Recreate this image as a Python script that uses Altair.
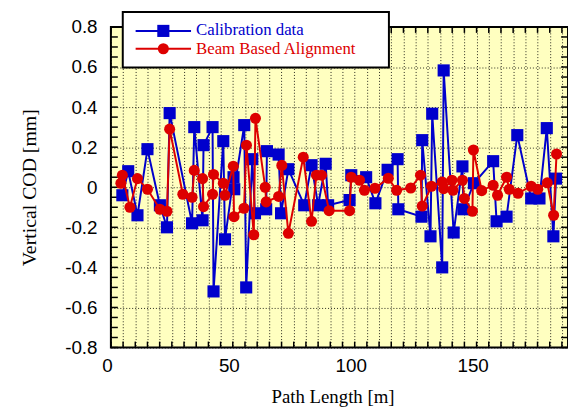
import altair as alt
import pandas as pd

# Calibration data (blue squares)
blue_x = [4.7, 7.1, 10.9, 15.0, 20.1, 23.0, 24.1, 33.3, 34.2, 37.6, 38.0, 41.7, 42.1,
          46.1, 46.8, 50.3, 50.6, 54.7, 55.5, 58.0, 59.1, 63.7, 64.0, 68.8, 69.8, 72.8,
          79.3, 82.3, 85.0, 88.1, 89.1, 97.9, 98.6, 104.7, 108.5, 113.5, 117.6, 117.9,
          127.4, 127.7, 131.1, 131.8, 135.9, 136.5, 140.6, 144.2, 144.6, 148.9, 156.8,
          158.2, 162.3, 166.7, 172.4, 175.8, 178.8, 181.5, 182.6]
blue_y = [-0.04, 0.08, -0.14, 0.19, -0.09, -0.20, 0.37, -0.18, 0.30, -0.165, 0.21, 0.30, -0.52,
          0.23, -0.26, 0.05, -0.01, 0.31, -0.50, 0.14, -0.13, -0.11, 0.18, 0.163, -0.13, 0.09,
          -0.09, 0.11, -0.09, 0.117, -0.09, -0.064, 0.06, 0.05, -0.08, 0.087, 0.14, -0.11,
          -0.147, 0.235, -0.245, 0.367, -0.40, 0.583, -0.226, 0.104, -0.11, 0.02, 0.13,
          -0.17, -0.147, 0.26, -0.056, -0.056, 0.295, -0.245, 0.043]

# Beam Based Alignment (red circles)
red_x = [4.1, 4.7, 7.8, 10.9, 15.0, 20.1, 23.0, 24.1, 29.5, 33.3, 34.2, 37.6, 38.0, 41.7,
         42.1, 46.1, 46.8, 50.2, 50.5, 54.6, 55.6, 58.6, 59.3, 63.3, 63.7, 68.8, 70.1, 72.8,
         78.9, 82.3, 84.3, 86.4, 89.5, 97.9, 98.6, 102.0, 104.0, 108.3, 113.8, 117.2, 123.0,
         127.0, 127.7, 131.5, 135.9, 136.5, 139.9, 140.3, 144.2, 145.0, 148.3, 148.7, 152.1,
         156.8, 158.6, 162.3, 163.4, 167.0, 172.4, 175.1, 179.0, 181.6, 182.8]
red_y = [0.02, 0.06, -0.10, 0.043, -0.01, -0.11, -0.12, 0.29, -0.035, -0.05, 0.084, 0.043, -0.097,
         -0.035, 0.064, 0.02, -0.04, 0.105, -0.147, -0.105, 0.21, -0.237, 0.344, 0.0, -0.073,
         -0.046, 0.109, -0.23, 0.15, -0.17, 0.06, 0.06, -0.117, -0.117, 0.05, 0.035, -0.015,
         -0.005, 0.045, -0.015, -0.004, 0.06, -0.094, 0.005, 0.026, -0.007, 0.035, -0.015,
         0.035, -0.056, -0.12, 0.186, -0.017, 0.01, -0.04, 0.05, -0.01, -0.03, 0.005, -0.01,
         0.022, -0.14, 0.166]

# Axis ticks / labels
x_tick_values = [5 * i for i in range(38)]
y_minor_values = [round(-0.8 + 0.05 * i, 2) for i in range(33)]
y_label_values = [-0.8, -0.6, -0.4, -0.2, 0, 0.2, 0.4, 0.6, 0.8]

legend_labels = ["Calibration data", "Beam Based Alignment"]

BLUE = "#0000CC"
RED = "#DD0000"
W, H = 462, 324

blue_df = pd.DataFrame({"x": blue_x, "y": blue_y, "i": range(len(blue_x))})
red_df = pd.DataFrame({"x": red_x, "y": red_y, "i": range(len(red_x))})
xt_df = pd.DataFrame({"x": x_tick_values})
yt_df = pd.DataFrame({"y": y_minor_values})
one = pd.DataFrame({"a": [0]})

xscale = alt.Scale(domain=[0, 187.5], nice=False, zero=False)
yscale = alt.Scale(domain=[-0.8, 0.8], nice=False, zero=False)

x_axis = alt.Axis(
    values=x_tick_values, grid=True, gridDash=[1, 2], gridColor="black", gridOpacity=0.85,
    gridWidth=1, ticks=False, domain=False, labelOverlap=False, labelFlush=False,
    labelExpr="datum.value % 50 == 0 ? datum.label : ''", labelFont="Liberation Sans",
    labelFontSize=19, labelColor="black", labelPadding=9, labelOffset=-4,
    title="Path Length [m]", titleFont="Liberation Serif", titleFontSize=19,
    titleFontWeight="normal", titleColor="black", titleX=224, titleY=50,
    titleBaseline="middle", titleAlign="center",
)
y_axis = alt.Axis(
    values=y_label_values, grid=True, gridDash=[1, 2], gridColor="black", gridOpacity=0.85,
    gridWidth=1, ticks=False, domain=False, labelOverlap=False, labelFlush=False,
    labelExpr="abs(datum.value) < 1e-9 ? '0' : (datum.value < 0 ? '-' : '') + format(abs(datum.value), '.1f')",
    labelFont="Liberation Sans", labelFontSize=19, labelColor="black", labelPadding=14,
    title="Vertical COD [mm]", titleFont="Liberation Serif", titleFontSize=20,
    titleFontWeight="normal", titleColor="black", titleX=-82, titleY=162,
    titleAngle=-90, titleAlign="center", titleBaseline="middle",
)

X = alt.X("x:Q", scale=xscale, axis=x_axis)
Y = alt.Y("y:Q", scale=yscale, axis=y_axis)

blue_line = alt.Chart(blue_df).mark_line(color=BLUE, strokeWidth=2).encode(x=X, y=Y, order="i:Q")
blue_pts = alt.Chart(blue_df).mark_point(shape="square", filled=True, size=150, color=BLUE, opacity=1).encode(x=X, y=Y)
red_line = alt.Chart(red_df).mark_line(color=RED, strokeWidth=2).encode(x=X, y=Y, order="i:Q")
red_pts = alt.Chart(red_df).mark_point(shape="circle", filled=True, size=125, color=RED, opacity=1).encode(x=X, y=Y)

tick_bot = alt.Chart(xt_df).mark_rule(color="black", strokeWidth=1.5).encode(
    x=X, y=alt.value(H), y2=alt.value(H - 6)
)
tick_top = alt.Chart(xt_df).mark_rule(color="black", strokeWidth=1.5).encode(
    x=X, y=alt.value(0), y2=alt.value(6)
)
tick_left = alt.Chart(yt_df).mark_rule(color="black", strokeWidth=1.5).encode(
    y=Y, x=alt.value(0), x2=alt.value(7)
)
tick_right = alt.Chart(yt_df).mark_rule(color="black", strokeWidth=1.5).encode(
    y=Y, x=alt.value(W), x2=alt.value(W - 7)
)

# Legend box
leg_box = alt.Chart(one).mark_rect(fill="white", stroke="black", strokeWidth=2).encode(
    x=alt.value(12), x2=alt.value(281), y=alt.value(-15), y2=alt.value(41)
)
leg_b_line = alt.Chart(one).mark_rule(color=BLUE, strokeWidth=2).encode(
    x=alt.value(25), x2=alt.value(81), y=alt.value(4)
)
leg_b_pt = alt.Chart(one).mark_point(shape="square", filled=True, size=150, color=BLUE, opacity=1).encode(
    x=alt.value(53), y=alt.value(4)
)
leg_r_line = alt.Chart(one).mark_rule(color=RED, strokeWidth=2).encode(
    x=alt.value(25), x2=alt.value(81), y=alt.value(22)
)
leg_r_pt = alt.Chart(one).mark_point(shape="circle", filled=True, size=125, color=RED, opacity=1).encode(
    x=alt.value(53), y=alt.value(22)
)
leg_b_txt = alt.Chart(one).mark_text(text=legend_labels[0], color=BLUE, font="Liberation Serif",
                                     fontSize=17, align="left", baseline="middle").encode(
    x=alt.value(86), y=alt.value(3)
)
leg_r_txt = alt.Chart(one).mark_text(text=legend_labels[1], color=RED, font="Liberation Serif",
                                     fontSize=17, align="left", baseline="middle").encode(
    x=alt.value(86), y=alt.value(22)
)

chart = alt.layer(
    blue_line, tick_bot, tick_top, tick_left, tick_right,
    blue_pts, red_line, red_pts,
    leg_box, leg_b_line, leg_b_pt, leg_r_line, leg_r_pt, leg_b_txt, leg_r_txt,
).properties(
    width=W, height=H,
    autosize=alt.AutoSizeParams(type="none"),
    padding={"left": 104, "top": 17, "right": 0, "bottom": 61},
    background="white",
).configure_view(
    fill="#FFFFC0", stroke="black", strokeWidth=2
)

chart.save("out.html", embed_options={"renderer": "svg", "actions": False})
